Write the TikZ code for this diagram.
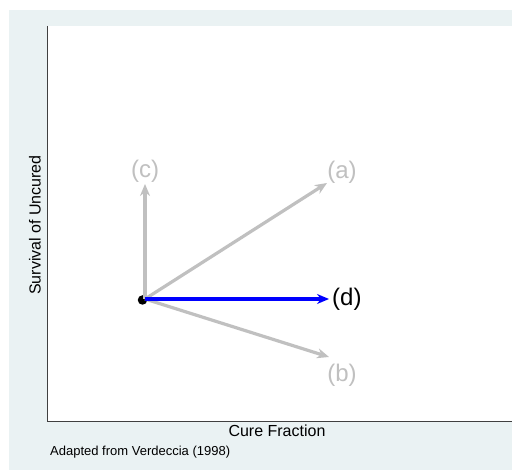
\documentclass[tikz,border=0pt]{standalone}
\usepackage{fontspec}
\setmainfont{Liberation Sans}
\usepackage{tikz}
\usetikzlibrary{arrows.meta, positioning}
\usepackage{xcolor}
\definecolor{regionbg}{RGB}{234,242,243}
\definecolor{fadedgray}{RGB}{192,192,192}
\definecolor{accentblue}{RGB}{0,0,255}
\definecolor{axisgray}{RGB}{64,64,64}
\tikzset{
  axisline/.style={draw=axisgray, line width=1pt},
  grayarrow/.style={-{Stealth[length=12pt, width=10pt]}, line width=3.2pt, color=fadedgray},
  bluearrow/.style={-{Stealth[length=12pt, width=10pt]}, line width=3.6pt, color=accentblue},
  fadedlabel/.style={inner sep=0pt, text=fadedgray, font=\fontsize{24}{28}\selectfont},
  mainlabel/.style={inner sep=0pt, text=black, font=\fontsize{24}{28}\selectfont},
  axistitle/.style={inner sep=0pt, font=\fontsize{16}{19}\selectfont},
  notetext/.style={inner sep=0pt, font=\fontsize{13}{15}\selectfont}
}

\begin{document}
\begin{tikzpicture}[x=1pt, y=-1pt]
  \useasboundingbox (0,0) rectangle (512,470);
  \fill[regionbg] (9,10) rectangle (512,470);
  \fill[white] (47,26) rectangle (512,422);

  % axes
  \coordinate (corner) at (47,422);
  \coordinate (ytop) at (47,26);
  \coordinate (xend) at (512,422);
  \draw[axisline] (ytop) -- (corner) -- (xend);

  % start point and arrow tips
  \node[circle, fill=black, inner sep=0pt, minimum size=9.5pt] (dot) at (142.5,300) {};
  \coordinate (start) at (145,299);
  \coordinate (atip) at (327,183);
  \coordinate (btip) at (329,357);
  \coordinate (ctip) at (145,184);
  \coordinate (dtip) at (329,299);

  \draw[grayarrow] (start) -- (ctip);
  \draw[grayarrow] (start) -- (atip);
  \draw[grayarrow] (start) -- (btip);
  \draw[bluearrow] (start) -- (dtip);

  \node[fadedlabel] (alabel) at (342,172) {(a)};
  \node[fadedlabel] (blabel) at (342,375) {(b)};
  \node[fadedlabel] (clabel) at (145,171) {(c)};
  \node[mainlabel, right=3pt of dtip] (dlabel) {(d)};

  \node[axistitle] (xtitle) at (277,431) {Cure Fraction};
  \node[axistitle, rotate=90] (ytitle) at (35,225) {Survival of Uncured};
  \node[notetext, anchor=west] (note) at (50,452) {Adapted from Verdeccia (1998)};
\end{tikzpicture}
\end{document}
